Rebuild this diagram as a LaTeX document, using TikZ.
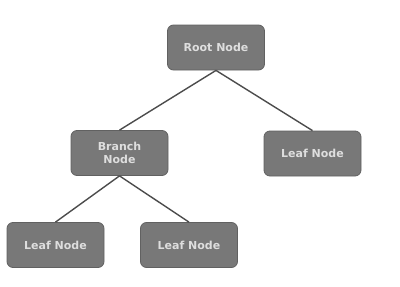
\documentclass[tikz,border=0pt]{standalone}
\usepackage{fontspec}
\setmainfont{DejaVu Sans}
\begin{document}
\begin{tikzpicture}[x=1pt,y=-1pt,
  treebox/.style={draw=black!62, fill=black!53, line width=0.8pt, rounded corners=6pt,
    minimum width=97pt, minimum height=45pt, align=center, text=black!13,
    font=\fontsize{11}{13}\selectfont\bfseries, inner sep=0pt},
  link/.style={draw=black!70, line width=1.4pt}]
\useasboundingbox (0,0) rectangle (400,287);
\node[treebox] (root) at (216,47.5) {Root Node};
\node[treebox] (branch) at (119.5,153) {Branch\\Node};
\node[treebox] (leafr) at (312.5,153.5) {Leaf Node};
\node[treebox] (leaf1) at (55.5,245) {Leaf Node};
\node[treebox] (leaf2) at (189,245) {Leaf Node};
\draw[link] (root.south) -- (branch.north);
\draw[link] (root.south) -- (leafr.north);
\draw[link] (branch.south) -- (leaf1.north);
\draw[link] (branch.south) -- (leaf2.north);
\end{tikzpicture}
\end{document}
